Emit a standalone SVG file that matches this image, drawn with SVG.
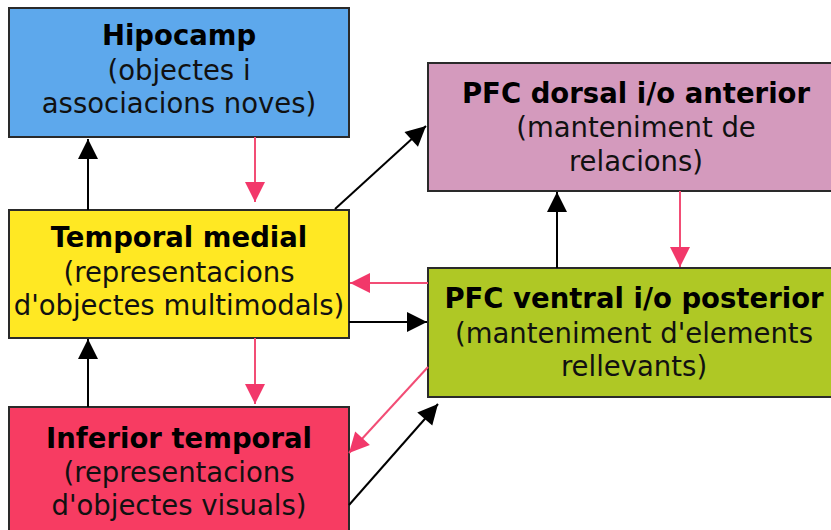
<svg xmlns="http://www.w3.org/2000/svg" width="831" height="530" viewBox="0 0 831 530">
<style>
.box{stroke:#2a2a2a;stroke-width:2}
.t{font-family:"DejaVu Sans",Verdana,sans-serif;font-weight:bold;font-size:27.5px;fill:#000;text-anchor:middle}
.s{font-family:"DejaVu Sans",Verdana,sans-serif;font-size:27.5px;fill:#111;text-anchor:middle}
.b{stroke:#000;stroke-width:2;fill:none}
.p{stroke:#f24d75;stroke-width:2;fill:none}
</style>
<defs>
<marker id="ab" markerUnits="userSpaceOnUse" markerWidth="24" markerHeight="24" viewBox="0 0 24 24" refX="22" refY="12" orient="auto"><path d="M2,2 L22,12 L2,22 Z" fill="#000"/></marker>
<marker id="ap" markerUnits="userSpaceOnUse" markerWidth="24" markerHeight="24" viewBox="0 0 24 24" refX="22" refY="12" orient="auto"><path d="M2,2 L22,12 L2,22 Z" fill="#f2386a"/></marker>
</defs>
<rect width="831" height="530" fill="#fff"/>
<g id="hipocamp">
<rect class="box" x="9" y="8" width="340" height="129" fill="#5da8ec"/>
<text class="t" x="179" y="45">Hipocamp</text>
<text class="s" x="179" y="80">(objectes i</text>
<text class="s" x="179" y="113">associacions noves)</text>
</g>
<g id="temporal-medial">
<rect class="box" x="9" y="210" width="340" height="128" fill="#ffe823"/>
<text class="t" x="179" y="247">Temporal medial</text>
<text class="s" x="179" y="282">(representacions</text>
<text class="s" x="179" y="315">d'objectes multimodals)</text>
</g>
<g id="inferior-temporal">
<rect class="box" x="9" y="407" width="340" height="140" fill="#f73c62"/>
<text class="t" x="179" y="448">Inferior temporal</text>
<text class="s" x="179" y="482">(representacions</text>
<text class="s" x="179" y="515">d'objectes visuals)</text>
</g>
<g id="pfc-dorsal">
<rect class="box" x="428" y="63" width="420" height="128" fill="#d49abd"/>
<text class="t" x="636" y="103">PFC dorsal i/o anterior</text>
<text class="s" x="636" y="137">(manteniment de</text>
<text class="s" x="636" y="171">relacions)</text>
</g>
<g id="pfc-ventral">
<rect class="box" x="428" y="268" width="420" height="129" fill="#afc825"/>
<text class="t" x="634" y="308">PFC ventral i/o posterior</text>
<text class="s" x="634" y="343">(manteniment d'elements</text>
<text class="s" x="634" y="376">rellevants)</text>
</g>
<g id="connectors">
<line class="b" x1="88" y1="210" x2="88" y2="139" marker-end="url(#ab)"/>
<line class="p" x1="255" y1="137" x2="255" y2="202" marker-end="url(#ap)"/>
<line class="b" x1="335" y1="209" x2="426" y2="126" marker-end="url(#ab)"/>
<line class="p" x1="428" y1="283" x2="350" y2="283" marker-end="url(#ap)"/>
<line class="b" x1="349" y1="322" x2="427" y2="322" marker-end="url(#ab)"/>
<line class="b" x1="88" y1="407" x2="88" y2="339" marker-end="url(#ab)"/>
<line class="p" x1="255" y1="338" x2="255" y2="404" marker-end="url(#ap)"/>
<line class="p" x1="428" y1="367" x2="349" y2="453" marker-end="url(#ap)"/>
<line class="b" x1="349" y1="505" x2="438" y2="404" marker-end="url(#ab)"/>
<line class="b" x1="557" y1="268" x2="557" y2="192" marker-end="url(#ab)"/>
<line class="p" x1="680" y1="191" x2="680" y2="267" marker-end="url(#ap)"/>
</g>
</svg>
